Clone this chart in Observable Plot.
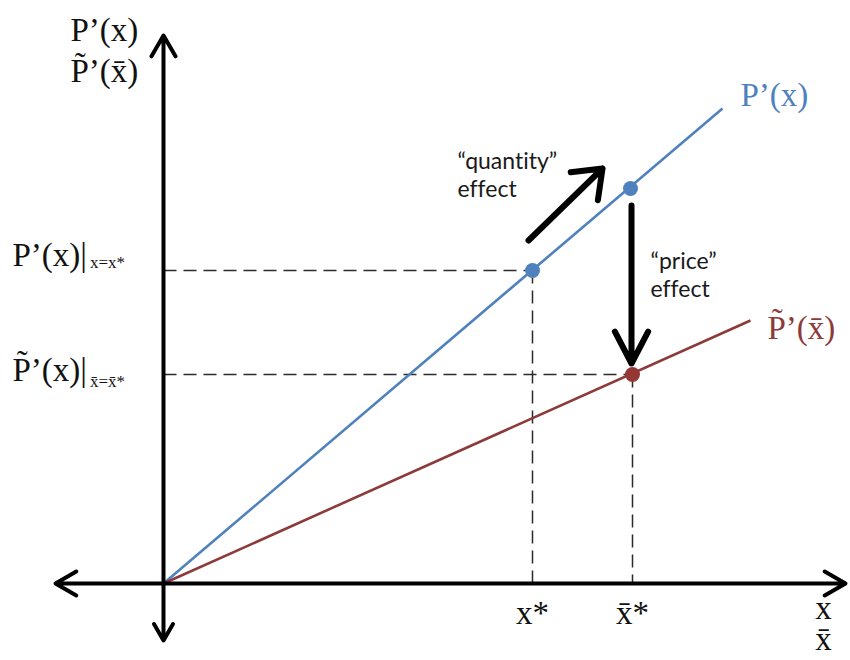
<!DOCTYPE html>
<html>
<head>
<meta charset="utf-8">
<script src="https://cdn.jsdelivr.net/npm/d3@7"></script>
<script src="https://cdn.jsdelivr.net/npm/@observablehq/plot@0.6"></script>
<style>
  body { margin: 0; background: #fff; }
  #chart svg { display: block; }
  #chart text { font-variant-ligatures: none; }
</style>
</head>
<body>
<div id="chart"></div>
<script>
// Marginal-value curves, both starting at the origin
const curveNames = ["P’(x)", "P̃’(x̄)"];
const curveColors = ["#4f81bd", "#8c3a3a"];
const curveEndX = [5.59, 5.87];
const curveEndY = [4.75, 2.63];

// Points on the curves: optimum x*, the shifted point, and optimum x̄*
const pointX = [3.69, 4.67, 4.69];
const pointY = [3.13, 3.95, 2.09];
const pointColors = ["#4f81bd", "#4f81bd", "#953735"];

// Axis extents (double-headed axes)
const axisX = [-1.08, 6.82];
const axisY = [-0.57, 5.48];

// Effect arrows: [x1, y1, x2, y2]
const quantityArrow = [3.65, 3.43, 4.39, 4.15];
const priceArrow = [4.68, 3.78, 4.68, 2.20];

// Text
const axisTitleY = ["P’(x)", "P̃’(x̄)"];
const axisTitleX = ["x", "x̄"];
const tickLabels = ["x*", "x̄*"];
const levelLabels = ["P’(x)|", "P̃’(x)|"];
const levelSubs = ["x=x*", "x̄=x̄*"];
const noteQuantity = "“quantity”\neffect";
const notePrice = "“price”\neffect";

const xStar = pointX[0], yStar = pointY[0];
const xBarStar = pointX[2], yBarStar = pointY[2];

const serif = "Liberation Serif";
const sans = "Lato";
const FS = 33;
const base = fs => -0.32 * fs;       // single line: baseline on y
const firstBase = fs => -0.71 * fs;  // multi-line, lineAnchor "top": first baseline on y

const idx = n => d3.range(n);

const chart = Plot.plot({
  width: 850,
  height: 660,
  margin: 0,
  x: {domain: [-1.63, 6.87], range: [0, 850], axis: null},
  y: {domain: [-0.77, 5.83], range: [660, 0], axis: null},
  marks: [
    // dashed guides from the optimum points to the axes
    Plot.link([[0, yStar, xStar, yStar], [xStar, yStar, xStar, 0],
               [0, yBarStar, xBarStar, yBarStar], [xBarStar, yBarStar, xBarStar, 0]], {
      x1: d => d[0], y1: d => d[1], x2: d => d[2], y2: d => d[3],
      stroke: "#2a2a2a", strokeWidth: 1.5, strokeDasharray: "13,7"
    }),
    // curves
    Plot.link(idx(2), {
      x1: 0, y1: 0, x2: i => curveEndX[i], y2: i => curveEndY[i],
      stroke: i => curveColors[i], strokeWidth: 2.6
    }),
    // axes
    Plot.arrow([[0, 0, axisX[1], 0], [0, 0, axisX[0], 0], [0, 0, 0, axisY[1]], [0, 0, 0, axisY[0]]], {
      x1: d => d[0], y1: d => d[1], x2: d => d[2], y2: d => d[3],
      stroke: "#000", strokeWidth: 4, headLength: 9, headAngle: 60
    }),
    // effect arrows
    Plot.arrow([quantityArrow], {
      x1: d => d[0], y1: d => d[1], x2: d => d[2], y2: d => d[3],
      stroke: "#000", strokeWidth: 6, headLength: 8, headAngle: 75
    }),
    Plot.arrow([priceArrow], {
      x1: d => d[0], y1: d => d[1], x2: d => d[2], y2: d => d[3],
      stroke: "#000", strokeWidth: 6, headLength: 9, headAngle: 55
    }),
    // points
    Plot.dot(idx(3), {
      x: i => pointX[i], y: i => pointY[i], r: 7.5,
      fill: i => pointColors[i], stroke: "none"
    }),
    // y axis title (two lines)
    Plot.text([axisTitleY.join("\n")], {
      x: -0.93, y: 5.48, text: d => d, lineAnchor: "top", lineHeight: 1.24,
      textAnchor: "start", fontFamily: serif, fontSize: FS, fill: "#111", dy: firstBase(FS)
    }),
    // x axis title (two lines)
    Plot.text([axisTitleX.join("\n")], {
      x: 6.6, y: -0.37, text: d => d, lineAnchor: "top", lineHeight: 0.94,
      textAnchor: "middle", fontFamily: serif, fontSize: FS, fill: "#111", dy: firstBase(FS)
    }),
    // tick labels under x* and x̄*
    Plot.text(idx(2), {
      x: i => [xStar, xBarStar][i], y: -0.40, text: i => tickLabels[i],
      textAnchor: "middle", fontFamily: serif, fontSize: FS, fill: "#111", dy: base(FS)
    }),
    // level labels on the y axis
    Plot.text(idx(2), {
      x: -1.51, y: i => [yStar + 0.05, yBarStar - 0.06][i], text: i => levelLabels[i],
      textAnchor: "start", fontFamily: serif, fontSize: FS, fill: "#111", dy: base(FS)
    }),
    Plot.text(idx(2), {
      x: -0.735, y: i => [yStar + 0.03, yBarStar - 0.12][i], text: i => levelSubs[i],
      textAnchor: "start", fontFamily: serif, fontSize: 17, fill: "#111", dy: base(17)
    }),
    // curve labels
    Plot.text(idx(2), {
      x: i => curveEndX[i] + [0.18, 0.17][i], y: i => curveEndY[i] + [0.03, -0.18][i],
      text: i => curveNames[i], textAnchor: "start",
      fontFamily: serif, fontSize: FS, fill: i => curveColors[i], dy: base(FS)
    }),
    // effect notes
    Plot.text([noteQuantity], {
      x: 2.94, y: 4.18, text: d => d, textAnchor: "start", lineAnchor: "top",
      fontFamily: sans, fontSize: 23, lineHeight: 1.22, fill: "#1a1a1a", dy: firstBase(23)
    }),
    Plot.text([notePrice], {
      x: 4.87, y: 3.18, text: d => d, textAnchor: "start", lineAnchor: "top",
      fontFamily: sans, fontSize: 23, lineHeight: 1.22, fill: "#1a1a1a", dy: firstBase(23)
    })
  ]
});

document.getElementById("chart").append(chart);
</script>
</body>
</html>
